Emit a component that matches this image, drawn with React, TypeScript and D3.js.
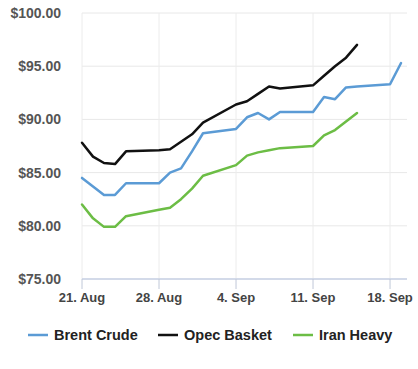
import React from "react";
import * as d3 from "d3";

// day offsets from 21 Aug 2017
const startDate = new Date(2017, 7, 21);
const brentDays = [0, 1, 2, 3, 4, 7, 8, 9, 10, 11, 14, 15, 16, 17, 18, 21, 22, 23, 24, 25, 28, 29];
const brentValues = [84.5, 83.7, 82.9, 82.9, 84.0, 84.0, 85.0, 85.4, 87.0, 88.7, 89.1, 90.2, 90.6, 90.0, 90.7, 90.7, 92.1, 91.9, 93.0, 93.1, 93.3, 95.3];
const opecDays = [0, 1, 2, 3, 4, 7, 8, 9, 10, 11, 14, 15, 16, 17, 18, 21, 22, 23, 24, 25];
const opecValues = [87.8, 86.5, 85.9, 85.8, 87.0, 87.1, 87.2, 87.9, 88.6, 89.7, 91.4, 91.7, 92.4, 93.1, 92.9, 93.2, 94.1, 95.0, 95.8, 97.0];
const iranDays = [0, 1, 2, 3, 4, 7, 8, 9, 10, 11, 14, 15, 16, 17, 18, 21, 22, 23, 24, 25];
const iranValues = [82.0, 80.7, 79.9, 79.9, 80.9, 81.5, 81.7, 82.5, 83.5, 84.7, 85.7, 86.6, 86.9, 87.1, 87.3, 87.5, 88.5, 89.0, 89.8, 90.6];

const seriesNames = ["Brent Crude", "Opec Basket", "Iran Heavy"];
const seriesColors = ["#5b9bd5", "#111111", "#6cbd45"];
const yTicks = [75, 80, 85, 90, 95, 100];
const xTickDays = [0, 7, 14, 21, 28];

const dayToDate = (d: number) => d3.timeDay.offset(startDate, d);

const App = () => {
  const width = 418;
  const height = 369;
  const plot = { left: 82, right: 407, top: 13, bottom: 279 };

  const x = d3
    .scaleTime()
    .domain([startDate, new Date(2017, 8, 19, 13)])
    .range([plot.left, plot.right]);
  const y = d3.scaleLinear().domain([75, 100]).range([plot.bottom, plot.top]);

  const line = d3
    .line<[number, number]>()
    .x(d => x(dayToDate(d[0])))
    .y(d => y(d[1]));

  const series = [
    d3.zip(brentDays, brentValues) as [number, number][],
    d3.zip(opecDays, opecValues) as [number, number][],
    d3.zip(iranDays, iranValues) as [number, number][]
  ];

  const fmt = d3.timeFormat("%-d. %b");
  const legendX = [28, 158, 293];

  return (
    <svg
      width={width}
      height={height}
      style={{ position: "absolute", left: 0, top: 0, background: "#fff" }}
      fontFamily="'Liberation Sans', Arial, sans-serif"
    >
      <g className="grid">
        {yTicks.map(t => (
          <line key={t} x1={plot.left} x2={plot.right} y1={y(t)} y2={y(t)} stroke="#e8e8e8" strokeWidth={1} />
        ))}
        {xTickDays.map(d => (
          <line
            key={d}
            x1={x(dayToDate(d))}
            x2={x(dayToDate(d))}
            y1={plot.top}
            y2={plot.bottom}
            stroke="#ececec"
            strokeWidth={1}
          />
        ))}
      </g>
      <line x1={plot.left} x2={plot.right} y1={plot.bottom} y2={plot.bottom} stroke="#c8d2e6" strokeWidth={1.5} />
      {xTickDays.map(d => (
        <g key={d} transform={`translate(${x(dayToDate(d))},${plot.bottom})`}>
          <line y1={0} y2={10} stroke="#c0c8d8" strokeWidth={1} />
          <text y={23} textAnchor="middle" fontSize={13} fontWeight="bold" fill="#444">
            {fmt(dayToDate(d))}
          </text>
        </g>
      ))}
      {yTicks.map(t => (
        <text key={t} x={61} y={y(t) + 5} textAnchor="end" fontSize={14} fontWeight="bold" fill="#555">
          {d3.format("$.2f")(t)}
        </text>
      ))}
      {series.map((s, i) => (
        <path
          key={i}
          d={line(s) || ""}
          fill="none"
          stroke={seriesColors[i]}
          strokeWidth={2.5}
          strokeLinejoin="round"
          strokeLinecap="round"
        />
      ))}
      <g className="legend" transform="translate(0,335)">
        {seriesNames.map((n, i) => (
          <g key={n} transform={`translate(${legendX[i]},0)`}>
            <line x1={0} x2={20} y1={0} y2={0} stroke={seriesColors[i]} strokeWidth={2.5} />
            <text x={26} y={5} fontSize={14.5} fontWeight="bold" fill="#222">
              {n}
            </text>
          </g>
        ))}
      </g>
    </svg>
  );
};

export default App;
